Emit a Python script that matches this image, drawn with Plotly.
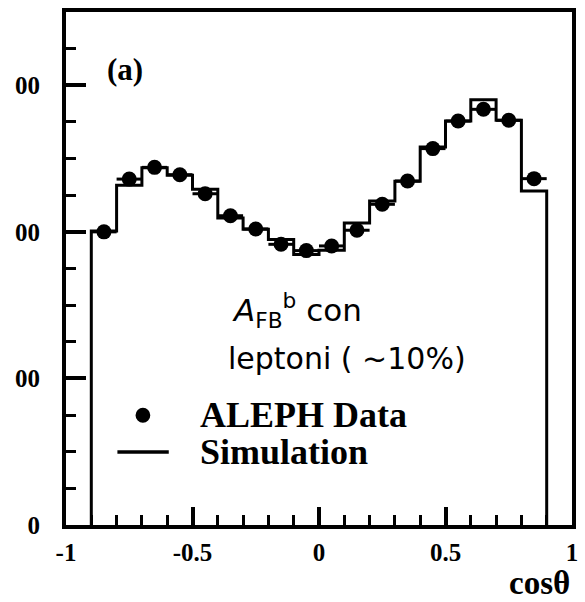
import plotly.graph_objects as go

# cos(theta) bins: 18 bins of width 0.1 from -0.9 to 0.9
bin_edges = [-0.9, -0.8, -0.7, -0.6, -0.5, -0.4, -0.3, -0.2, -0.1, 0.0,
             0.1, 0.2, 0.3, 0.4, 0.5, 0.6, 0.7, 0.8, 0.9]
bin_centers = [-0.85, -0.75, -0.65, -0.55, -0.45, -0.35, -0.25, -0.15, -0.05,
               0.05, 0.15, 0.25, 0.35, 0.45, 0.55, 0.65, 0.75, 0.85]

# ALEPH data (events per bin)
data_counts = [2000, 2360, 2440, 2390, 2260, 2110, 2020, 1915, 1872,
               1904, 2011, 2188, 2347, 2568, 2756, 2836, 2761, 2363]
# Simulation histogram (events per bin)
sim_counts = [2006, 2318, 2438, 2386, 2290, 2095, 2018, 1948, 1845,
              1875, 2061, 2211, 2345, 2579, 2756, 2902, 2761, 2279]
half_width = [0.05] * len(bin_centers)

y_tickvals = [0, 1000, 2000, 3000]
y_ticktext = ["<b>0</b>", "<b>00</b>", "<b>00</b>", "<b>00</b>"]
x_tickvals = [-1, -0.5, 0, 0.5, 1]
x_ticktext = ["<b>-1</b>", "<b>-0.5</b>", "<b>0</b>", "<b>0.5</b>", "<b>1</b>"]

serif = "Liberation Serif, Times New Roman, serif"
comic = "Comic Sans MS, DejaVu Sans, sans-serif"

# step outline: drop to zero at both ends
step_x = [bin_edges[0]] + bin_edges
step_y = [0] + sim_counts + [0]

fig = go.Figure()
fig.add_trace(go.Scatter(
    x=step_x, y=step_y, mode="lines", line_shape="hv",
    line=dict(color="black", width=3), showlegend=False, hoverinfo="skip"))
fig.add_trace(go.Scatter(
    x=bin_centers, y=data_counts, mode="markers",
    marker=dict(color="black", size=15, symbol="circle"),
    error_x=dict(type="data", array=half_width, width=0, thickness=3, color="black"),
    showlegend=False))

# legend glyphs and labels
shapes = [
    dict(type="circle", xref="paper", yref="paper",
         x0=0.152 - 0.0146, x1=0.152 + 0.0146, y0=0.214 - 0.0146, y1=0.214 + 0.0146,
         fillcolor="black", line=dict(color="black", width=0)),
    dict(type="line", xref="paper", yref="paper",
         x0=0.1016, x1=0.2031, y0=0.1423, y1=0.1423,
         line=dict(color="black", width=3.5)),
]

annotations = [
    dict(text="<b>(a)</b>", xref="paper", yref="paper", x=0.078, y=0.887,
         xanchor="left", yanchor="middle", showarrow=False,
         font=dict(family=serif, size=31, color="black")),
    dict(text="<i>A</i><sub>FB</sub><sup>b</sup> con", xref="paper", yref="paper",
         x=0.325, y=0.418, xanchor="left", yanchor="middle", showarrow=False,
         font=dict(family=comic, size=31, color="black")),
    dict(text="leptoni ( ~10%)", xref="paper", yref="paper",
         x=0.316, y=0.325, xanchor="left", yanchor="middle", showarrow=False,
         font=dict(family=comic, size=30, color="black")),
    dict(text="<b>ALEPH Data</b>", xref="paper", yref="paper",
         x=0.26, y=0.214, xanchor="left", yanchor="middle", showarrow=False,
         font=dict(family=serif, size=36, color="black")),
    dict(text="<b>Simulation</b>", xref="paper", yref="paper",
         x=0.26, y=0.142, xanchor="left", yanchor="middle", showarrow=False,
         font=dict(family=serif, size=36, color="black")),
    dict(text="<b>cosθ</b>", xref="paper", yref="paper",
         x=1.0, y=-0.113, xanchor="right", yanchor="middle", showarrow=False,
         font=dict(family=serif, size=33, color="black")),
]

fig.update_layout(
    width=585, height=602,
    margin=dict(l=66, r=7, t=12, b=77),
    paper_bgcolor="white", plot_bgcolor="white",
    shapes=shapes, annotations=annotations,
    xaxis=dict(range=[-1, 1], tickvals=x_tickvals, ticktext=x_ticktext,
               showgrid=False, zeroline=False,
               showline=True, linecolor="black", linewidth=4, mirror=True,
               ticks="inside", ticklen=18, tickwidth=3.5, tickcolor="black",
               minor=dict(ticks="inside", dtick=0.1, ticklen=10, tickwidth=3,
                          tickcolor="black", showgrid=False),
               tickfont=dict(family=serif, size=25, color="black"),
               ticklabelstandoff=2),
    yaxis=dict(range=[0, 3500], tickvals=y_tickvals, ticktext=y_ticktext,
               showgrid=False, zeroline=False,
               showline=True, linecolor="black", linewidth=4, mirror=True,
               ticks="inside", ticklen=20, tickwidth=3.5, tickcolor="black",
               minor=dict(ticks="inside", dtick=250, ticklen=10, tickwidth=3,
                          tickcolor="black", showgrid=False),
               tickfont=dict(family=serif, size=25, color="black"),
               ticklabelstandoff=17),
)

fig.write_html("out.html")
